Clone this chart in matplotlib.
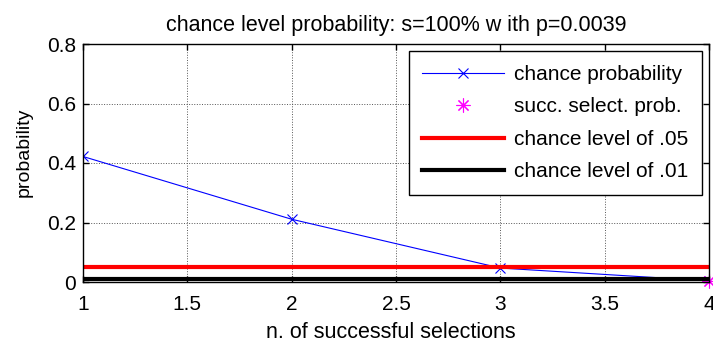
import matplotlib
matplotlib.use("Agg")
import matplotlib.pyplot as plt

n_succ = [1, 2, 3, 4]
chance_prob = [0.4219, 0.2109, 0.0469, 0.0039]
succ_x = [4]
succ_prob = [0.0039]
level_05 = 0.05
level_01 = 0.01
x_ticks = [1, 1.5, 2, 2.5, 3, 3.5, 4]
y_ticks = [0, 0.2, 0.4, 0.6, 0.8]

plt.rcParams['font.family'] = ['Liberation Sans', 'DejaVu Sans']
fig = plt.figure(figsize=(7.13, 3.47), dpi=100)
ax = fig.add_axes([83/713, 1-282/347, (709-83)/713, (282-44)/347])

ax.plot(n_succ, chance_prob, color='#0000ff', lw=0.8, marker='x', ms=7, mew=0.8,
        label='chance probability')
ax.plot(succ_x, succ_prob, ls='none', color='#ff00ff', marker=(8, 2, 0), ms=10, mew=0.8,
        label='succ. select. prob.', clip_on=False)
ax.axhline(level_05, color='#ff0000', lw=3, label='chance level of .05')
ax.axhline(level_01, color='#000000', lw=3, label='chance level of .01')

ax.set_xlim(1, 4)
ax.set_ylim(0, 0.8)
ax.set_xticks(x_ticks)
ax.set_xticklabels(['1', '1.5', '2', '2.5', '3', '3.5', '4'])
ax.set_yticks(y_ticks)
ax.set_yticklabels(['0', '0.2', '0.4', '0.6', '0.8'])
ax.grid(True, color='#555555', ls=':', lw=0.7)
ax.tick_params(direction='in', top=True, right=True, labelsize=15, length=4, width=1)
ax.tick_params(axis='x', pad=9)
ax.tick_params(axis='y', pad=5)
for s in ax.spines.values():
    s.set_linewidth(1)

ax.set_title('chance level probability: s=100% w ith p=0.0039', fontsize=15.5, pad=9)
ax.set_xlabel('n. of successful selections', fontsize=15.5, va='center')
ax.xaxis.set_label_coords((391-83)/626, -(333-282)/238)
ax.set_ylabel('probability', fontsize=14, va='center')
ax.yaxis.set_label_coords((24-83)/626, (282-152)/238)

leg = ax.legend(loc='upper right', fontsize=15, frameon=True, fancybox=False,
                edgecolor='black', framealpha=1, handlelength=3.9, borderpad=0.65,
                labelspacing=0.65, borderaxespad=0.35, handletextpad=0.5)
leg.get_frame().set_linewidth(1)

fig.savefig('out.png', dpi=100)
